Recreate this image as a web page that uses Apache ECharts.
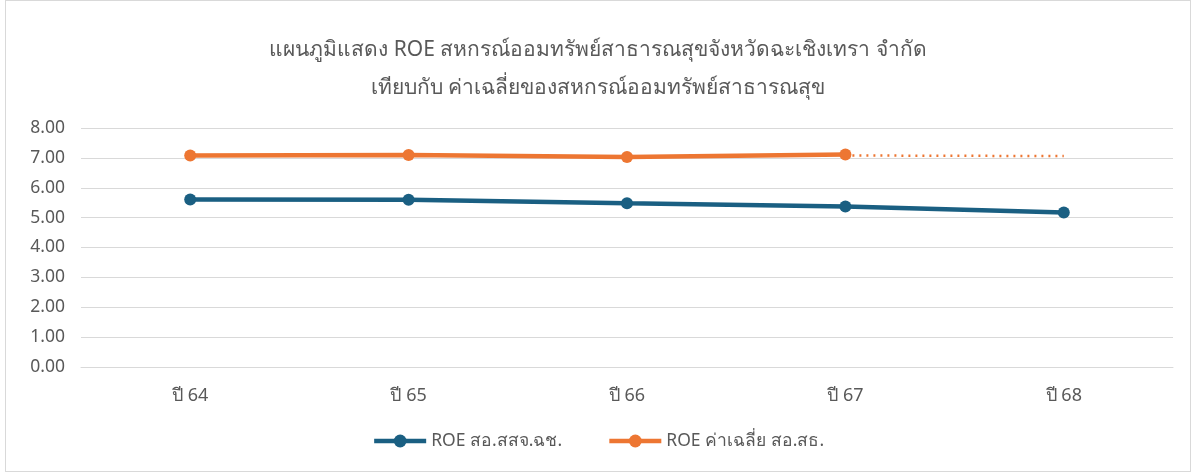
<!DOCTYPE html>
<html>
<head>
<meta charset="utf-8">
<script src="https://cdn.jsdelivr.net/npm/echarts@6/dist/echarts.min.js"></script>
<style>
  html, body { margin: 0; padding: 0; background: #fff; }
  #roeChart {
    position: absolute; left: 5px; top: 0; width: 1186px; height: 472px;
    border: 1px solid #d9d9d9; box-sizing: border-box;
  }
</style>
</head>
<body>
<div id="roeChart"></div>
<script>
// ข้อมูลของกราฟ
const years = ["ปี 64", "ปี 65", "ปี 66", "ปี 67", "ปี 68"];
const roeCoop = [5.61, 5.60, 5.48, 5.37, 5.17];
const roeAvg = [7.08, 7.10, 7.03, 7.11, null];
const roeAvgTrend = [null, null, null, 7.08, 7.06];
const yTicks = { min: 0, max: 8, step: 1 };

const chart = echarts.init(document.getElementById("roeChart"));
const textColor = "#595959";
const font = "'Noto Sans', 'Open Sans', sans-serif";

const option = {
  animation: false,
  title: {
    text: "แผนภูมิแสดง ROE สหกรณ์ออมทรัพย์สาธารณสุขจังหวัดฉะเชิงเทรา จำกัด\nเทียบกับ ค่าเฉลี่ยของสหกรณ์ออมทรัพย์สาธารณสุข",
    left: "center",
    top: 25,
    textStyle: {
      color: textColor,
      fontSize: 21,
      fontWeight: "normal",
      fontFamily: font,
      lineHeight: 38
    }
  },
  grid: {
    left: 75,
    right: 17,
    top: 127,
    bottom: 104,
    containLabel: false
  },
  legend: {
    bottom: 16,
    left: "center",
    itemWidth: 52,
    itemHeight: 16,
    itemGap: 45,
    lineStyle: { width: 4.5 },
    textStyle: { color: textColor, fontSize: 17.5, fontFamily: font },
    data: ["ROE สอ.สสจ.ฉช.", "ROE ค่าเฉลี่ย สอ.สธ."]
  },
  xAxis: {
    type: "category",
    data: years,
    boundaryGap: true,
    axisLine: { lineStyle: { color: "#d9d9d9", width: 1 } },
    axisTick: { show: false },
    axisLabel: { color: textColor, fontSize: 18, fontFamily: font, margin: 20 }
  },
  yAxis: {
    type: "value",
    min: yTicks.min,
    max: yTicks.max,
    interval: yTicks.step,
    axisLine: { show: false },
    axisTick: { show: false },
    axisLabel: {
      color: textColor,
      fontSize: 17.5,
      fontFamily: font,
      margin: 16,
      formatter: v => v.toFixed(2)
    },
    splitLine: { lineStyle: { color: "#d9d9d9", width: 1 } }
  },
  series: [
    {
      name: "ROE สอ.สสจ.ฉช.",
      type: "line",
      data: roeCoop,
      symbol: "circle",
      symbolSize: 12,
      lineStyle: { color: "#1a5f82", width: 4.5 },
      itemStyle: { color: "#1a5f82" },
      z: 3
    },
    {
      name: "ROE ค่าเฉลี่ย สอ.สธ.",
      type: "line",
      data: roeAvg,
      symbol: "circle",
      symbolSize: 12,
      lineStyle: { color: "#ed7632", width: 4.5 },
      itemStyle: { color: "#ed7632" },
      z: 3
    },
    {
      // เส้นประแนวโน้ม
      name: "trend",
      type: "line",
      data: roeAvgTrend,
      symbol: "none",
      lineStyle: { color: "#ed7632", width: 2.5, type: [2, 5] },
      z: 2
    }
  ]
};

chart.setOption(option);
</script>
</body>
</html>
